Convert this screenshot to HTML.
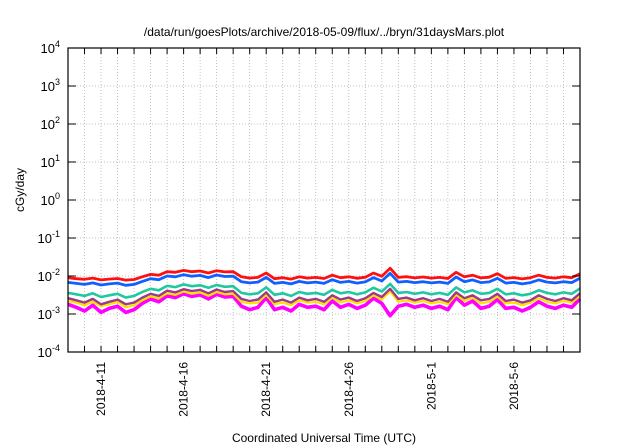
<!DOCTYPE html>
<html><head><meta charset="utf-8"><style>
body{margin:0;background:#fff;}
svg{display:block;font-family:"Liberation Sans",sans-serif;}
</style></head><body>
<svg id="chart" width="640" height="448" viewBox="0 0 640 448">
<text x="324" y="36" font-size="12" text-anchor="middle">/data/run/goesPlots/archive/2018-05-09/flux/../bryn/31daysMars.plot</text>
<text transform="translate(24,190) rotate(-90)" font-size="12" text-anchor="middle">cGy/day</text>
<text x="324" y="442" font-size="12" text-anchor="middle">Coordinated Universal Time (UTC)</text>
<g id="grid"></g><g id="series"></g><g id="axes"></g>
</svg>
<script>
const yExponents=[4,3,2,1,0,-1,-2,-3,-4];
const xTickLabels=["2018-4-11","2018-4-16","2018-4-21","2018-4-26","2018-5-1","2018-5-6"];
const xTickDays=[2,7,12,17,22,27];
const totalDays=31;
const seriesColors=["#ff00ff","#ffe000","#9c3a8a","#20c8a0","#1060ff","#ff1010"];
const seriesWidths=[3.6,2.2,2.4,2.6,2.8,2.8];
const red=[0.009,0.0085,0.0082,0.0088,0.0079,0.0083,0.0086,0.0078,0.0081,0.0095,0.011,0.0105,0.013,0.0125,0.014,0.013,0.0135,0.012,0.0138,0.0128,0.013,0.0095,0.0088,0.0092,0.012,0.0085,0.009,0.0083,0.0095,0.0088,0.0092,0.0086,0.0105,0.009,0.0095,0.0087,0.0093,0.012,0.0098,0.016,0.0092,0.0096,0.0089,0.0094,0.0088,0.0092,0.0086,0.0125,0.0095,0.0105,0.0089,0.0093,0.0115,0.0087,0.0091,0.0084,0.009,0.0105,0.0092,0.0088,0.0095,0.009,0.0115];
const blue=[0.0068,0.0064,0.006,0.0066,0.0058,0.0062,0.0065,0.0057,0.006,0.0072,0.0085,0.008,0.01,0.0095,0.0108,0.0099,0.0104,0.0091,0.0106,0.0097,0.0099,0.0071,0.0066,0.0069,0.0092,0.0064,0.0068,0.0062,0.0072,0.0066,0.0069,0.0064,0.008,0.0068,0.0072,0.0065,0.007,0.0091,0.0074,0.0118,0.0069,0.0072,0.0067,0.0071,0.0066,0.0069,0.0064,0.0094,0.0071,0.0079,0.0067,0.007,0.0087,0.0065,0.0068,0.0062,0.0067,0.0079,0.0069,0.0066,0.0071,0.0067,0.0088];
const teal=[0.0036,0.0033,0.003,0.0035,0.0028,0.0031,0.0034,0.0027,0.0030,0.0038,0.0046,0.0042,0.0055,0.0051,0.006,0.0054,0.0057,0.0049,0.0058,0.0052,0.0054,0.0036,0.0033,0.0035,0.005,0.0032,0.0035,0.003,0.0038,0.0034,0.0036,0.0032,0.0043,0.0035,0.0038,0.0033,0.0037,0.0049,0.0039,0.0062,0.0036,0.0038,0.0034,0.0037,0.0033,0.0036,0.0032,0.005,0.0037,0.0042,0.0034,0.0036,0.0046,0.0033,0.0035,0.0031,0.0034,0.0042,0.0036,0.0033,0.0037,0.0034,0.0047];
const purple=[0.0026,0.0023,0.002,0.0025,0.0018,0.0021,0.0024,0.0018,0.002,0.0027,0.0034,0.003,0.0041,0.0037,0.0045,0.004,0.0043,0.0035,0.0044,0.0038,0.004,0.0025,0.0022,0.0024,0.0037,0.0021,0.0024,0.002,0.0027,0.0023,0.0025,0.0021,0.0031,0.0024,0.0027,0.0022,0.0026,0.0036,0.0028,0.0046,0.0025,0.0027,0.0023,0.0026,0.0022,0.0025,0.0021,0.0037,0.0026,0.0031,0.0023,0.0025,0.0034,0.0022,0.0024,0.002,0.0023,0.0031,0.0025,0.0022,0.0026,0.0023,0.0035];
const yellow=[0.0022,0.002,0.0017,0.0021,0.0016,0.0018,0.0021,0.0015,0.0017,0.0023,0.0029,0.0026,0.0035,0.0032,0.0039,0.0034,0.0037,0.003,0.0038,0.0033,0.0034,0.0021,0.0019,0.002,0.0032,0.0018,0.002,0.0017,0.0023,0.002,0.0021,0.0018,0.0027,0.002,0.0023,0.0019,0.0022,0.0031,0.0024,0.004,0.0021,0.0023,0.002,0.0022,0.0019,0.0021,0.0018,0.0032,0.0022,0.0027,0.0019,0.0021,0.0029,0.0019,0.002,0.0017,0.002,0.0026,0.0021,0.0019,0.0022,0.002,0.003];
const magenta=[0.0018,0.0015,0.0012,0.0017,0.0011,0.0014,0.0016,0.0011,0.0013,0.0019,0.0025,0.0021,0.003,0.0027,0.0034,0.0029,0.0032,0.0025,0.0033,0.0028,0.0029,0.0016,0.0013,0.0015,0.0027,0.0013,0.0015,0.0012,0.0018,0.0015,0.0016,0.0013,0.0022,0.0015,0.0018,0.0014,0.0017,0.0026,0.0019,0.0009,0.0016,0.0018,0.0015,0.0017,0.0014,0.0016,0.0013,0.0027,0.0017,0.0022,0.0014,0.0016,0.0024,0.0014,0.0015,0.0012,0.0015,0.0021,0.0016,0.0014,0.0017,0.0015,0.0025];
const allSeries=[magenta,yellow,purple,teal,blue,red];
const seriesNames=["series-magenta","series-yellow","series-purple","series-teal","series-blue","series-red"];

const L=68,R=580,T=48,B=352,NS="http://www.w3.org/2000/svg";
function xs(d){return L+(R-L)*d/totalDays;}
function ys(v){return T+(B-T)*(4-Math.log10(v))/8;}
function mk(tag,attrs,parent){const e=document.createElementNS(NS,tag);for(const k in attrs)e.setAttribute(k,attrs[k]);parent.appendChild(e);return e;}
const grid=document.getElementById('grid'),axes=document.getElementById('axes'),ser=document.getElementById('series');
for(let d=1;d<totalDays;d++){
  const x=xs(d);
  const g=mk('line',{x1:x,x2:x,y1:T,y2:B,stroke:'#b0b0b0','stroke-width':0.8,'stroke-dasharray':'1,2'},grid);
  
  
  const t1=mk('line',{x1:x,x2:x,y1:B,y2:B-6,stroke:'#000','stroke-width':1},axes);
  
  
  const t2=mk('line',{x1:x,x2:x,y1:T,y2:T+6,stroke:'#000','stroke-width':1},axes);
  
  
}
yExponents.forEach(e=>{
  const y=ys(Math.pow(10,e));
  if(e<4&&e>-4){
    const g=mk('line',{x1:L,x2:R,y1:y,y2:y,stroke:'#b0b0b0','stroke-width':0.8,'stroke-dasharray':'1,2'},grid);
    
    
  }
  const t=mk('line',{x1:L,x2:L+8,y1:y,y2:y,stroke:'#000'},axes);
  
  
  const t2=mk('line',{x1:R,x2:R-8,y1:y,y2:y,stroke:'#000'},axes);
  
  
  const lb=mk('text',{x:L-8,y:y+5,'font-size':13,'text-anchor':'end'},axes);
  
  
  lb.appendChild(document.createTextNode('10'));
  const sp=mk('tspan',{dy:-6,'font-size':9},lb);sp.textContent=String(e);
});
xTickLabels.forEach((s,i)=>{
  const x=xs(xTickDays[i]);
  const lb=mk('text',{transform:`translate(${x+4},362) rotate(-90)`,'font-size':12,'text-anchor':'end'},axes);
  
  
  lb.textContent=s;
});
allSeries.forEach((arr,si)=>{
  const n=arr.length;
  const pts=arr.map((v,i)=>xs(i*totalDays/(n-1)).toFixed(1)+','+ys(v).toFixed(1)).join(' ');
  const p=mk('polyline',{points:pts,fill:'none',stroke:seriesColors[si],'stroke-width':seriesWidths[si],'stroke-linejoin':'round'},ser);
  
  
});
const fr=mk('rect',{x:L,y:T,width:R-L,height:B-T,fill:'none',stroke:'#000','stroke-width':1.2},axes);


</script>
</body></html>
